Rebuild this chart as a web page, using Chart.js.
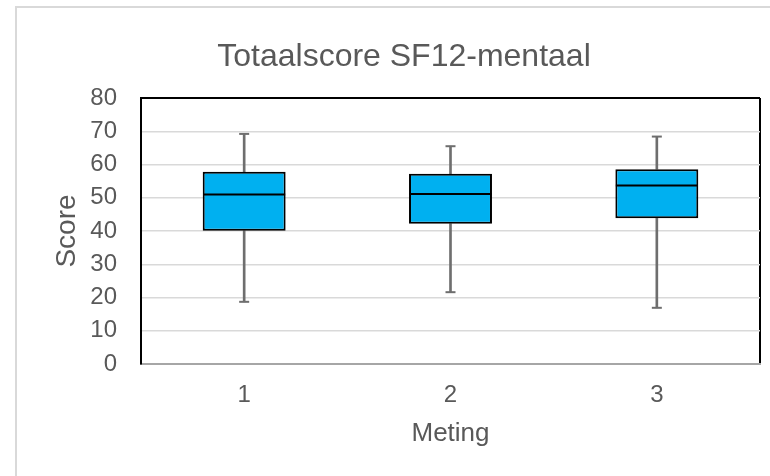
<!DOCTYPE html>
<html>
<head>
<meta charset="utf-8">
<script src="https://cdn.jsdelivr.net/npm/chart.js@4/dist/chart.umd.min.js"></script>
<style>
  html, body { margin: 0; padding: 0; background: #fff; }
  #wrap { position: relative; width: 770px; height: 476px; overflow: hidden; }
  #frame { position: absolute; left: 15px; top: 6px; width: 800px; height: 520px; border: 2px solid #d9d9d9; box-sizing: border-box; }
  canvas { position: absolute; left: 0; top: 0; }
</style>
</head>
<body>
<div id="wrap">
  <div id="frame"></div>
  <canvas id="c" width="770" height="476"></canvas>
</div>
<script>
const categories = ['1', '2', '3'];
const minimums = [18.7, 21.6, 16.9];
const quartile1 = [40.1, 42.2, 43.8];
const medians = [51.0, 51.1, 53.7];
const quartile3 = [57.8, 57.2, 58.6];
const maximums = [69.2, 65.5, 68.4];
const yTicks = [0, 10, 20, 30, 40, 50, 60, 70, 80];

const FONT = '"Liberation Sans", Arial, sans-serif';
const TEXT = '#595959';
const WHISKER = '#6e6e6e';

const lowerWhisker = minimums.map((v, i) => [v, quartile1[i]]);
const upperWhisker = quartile3.map((v, i) => [v, maximums[i]]);
const boxes = quartile1.map((v, i) => [v, quartile3[i]]);

new Chart(document.getElementById('c'), {
  type: 'bar',
  data: {
    labels: categories,
    datasets: [
      { type: 'line', data: medians, showLine: false, pointStyle: 'line', pointRadius: 41, pointBorderColor: '#000', pointBorderWidth: 2, order: 0 },
      { type: 'line', data: minimums, showLine: false, pointStyle: 'line', pointRadius: 5, pointBorderColor: WHISKER, pointBorderWidth: 2, order: 0 },
      { type: 'line', data: maximums, showLine: false, pointStyle: 'line', pointRadius: 5, pointBorderColor: WHISKER, pointBorderWidth: 2, order: 0 },
      { data: boxes, backgroundColor: '#00B0F0', borderColor: '#000', borderWidth: 2, borderSkipped: false, grouped: false, barPercentage: 0.402, categoryPercentage: 1, order: 1 },
      { data: lowerWhisker, backgroundColor: WHISKER, borderWidth: 0, grouped: false, barThickness: 2, order: 2 },
      { data: upperWhisker, backgroundColor: WHISKER, borderWidth: 0, grouped: false, barThickness: 2, order: 2 }
    ]
  },
  options: {
    responsive: false,
    animation: false,
    events: [],
    layout: { autoPadding: false, padding: { left: 48, right: 10, top: 0, bottom: 26.7 } },
    plugins: {
      legend: { display: false },
      tooltip: { enabled: false },
      title: {
        display: true,
        text: 'Totaalscore SF12-mentaal',
        color: TEXT,
        font: { family: FONT, size: 32, weight: 'normal' },
        padding: { top: 38.4, bottom: 21.2 }
      }
    },
    scales: {
      x: {
        offset: true,
        grid: {
          offset: true,
          drawTicks: false,
          lineWidth: 2,
          color: ctx => ctx.type === 'scale' ? '#000' : 'rgba(0,0,0,0)'
        },
        border: { display: true, color: '#a6a6a6', width: 2 },
        ticks: { color: TEXT, font: { family: FONT, size: 24 }, padding: 17 },
        title: { display: true, text: 'Meting', color: TEXT, font: { family: FONT, size: 26 }, padding: { top: 0, bottom: 0 } },
        afterFit: s => { s.height = 85.3; }
      },
      y: {
        min: 0,
        max: 80,
        afterBuildTicks: s => { s.ticks = yTicks.map(v => ({ value: v })); },
        grid: {
          drawTicks: false,
          lineWidth: ctx => ctx.tick && ctx.tick.value === 80 ? 2 : 1.5,
          color: ctx => ctx.tick && ctx.tick.value === 80 ? '#000' : '#d9d9d9'
        },
        border: { display: true, color: '#000', width: 2 },
        ticks: { color: TEXT, font: { family: FONT, size: 24 }, padding: 24 },
        title: { display: true, text: 'Score', color: TEXT, font: { family: FONT, size: 28 }, padding: { top: 2.2, bottom: 0 } },
        afterFit: s => { s.width = 93; }
      }
    }
  }
});
</script>
</body>
</html>
